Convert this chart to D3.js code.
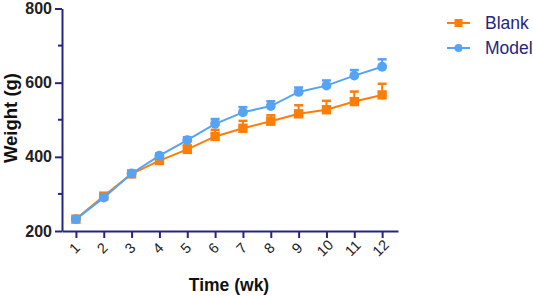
<!DOCTYPE html>
<html>
<head>
<meta charset="utf-8">
<script src="https://cdn.jsdelivr.net/npm/d3@7"></script>
<style>
  body { margin: 0; background: #fff; }
  svg { display: block; font-family: Arial, "Liberation Sans", sans-serif; }
  .axis path, .axis line { stroke: #262680; stroke-width: 2px; }
</style>
</head>
<body>
<div id="chart"></div>
<script>
// weeks on the x axis
var WEEKS = [1, 2, 3, 4, 5, 6, 7, 8, 9, 10, 11, 12];
// Blank group mean weight (g) and error
var BLANK = [232, 294, 354, 390, 420, 455, 477, 496, 516, 527, 549, 567];
var BLANK_ERR = [4, 6, 5, 7, 11, 18, 20, 16, 23, 24, 27, 30];
// Model group mean weight (g) and error
var MODEL = [232, 290, 355, 403, 445, 489, 520, 537, 575, 592, 619, 643];
var MODEL_ERR = [4, 5, 5, 6, 8, 13, 14, 13, 12, 14, 15, 20];
// y ticks
var Y_TICKS = [200, 400, 600, 800];
var Y_MINOR = [300, 500, 700];

var ORANGE = '#fb7e0a';
var BLUE = '#55a3f5';
var NAVY = '#262680';
var FONT = 'Arial, "Liberation Sans", sans-serif';

var W = 533, H = 297;
var svg = d3.select('#chart').append('svg')
  .attr('width', W).attr('height', H);

var x = d3.scaleLinear().domain([0.5, 12.57]).range([62, 398]);
var y = d3.scaleLinear().domain([200, 800]).range([231, 8.5]);

// y axis
var yAxis = svg.append('g')
  .attr('class', 'axis')
  .attr('transform', 'translate(62,0)')
  .call(d3.axisLeft(y).tickValues(Y_TICKS).tickSize(7).tickSizeOuter(0).tickPadding(3));
yAxis.selectAll('text')
  .attr('font-size', '16px').attr('font-weight', 'bold').attr('fill', '#222')
  .attr('font-family', FONT);
yAxis.selectAll('.minor').data(Y_MINOR).enter().append('line')
  .attr('class', 'minor')
  .attr('x1', -4).attr('x2', 0)
  .attr('y1', function(d) { return y(d); })
  .attr('y2', function(d) { return y(d); });

// x axis
var xAxis = svg.append('g')
  .attr('class', 'axis')
  .attr('transform', 'translate(0,231)')
  .call(d3.axisBottom(x).tickValues(WEEKS).tickSize(7).tickSizeOuter(0).tickFormat(d3.format('d')));
xAxis.selectAll('text')
  .attr('font-size', '14.5px').attr('fill', '#222')
  .attr('font-family', FONT)
  .style('text-anchor', 'middle')
  .attr('y', 0).attr('dy', '0.35em')
  .attr('transform', 'translate(-2,17) rotate(-45)');

// axis titles
svg.append('text')
  .attr('transform', 'translate(17,118) rotate(-90)')
  .style('text-anchor', 'middle')
  .attr('font-size', '18.5px').attr('font-weight', 'bold').attr('fill', '#111')
  .text('Weight (g)');

svg.append('text')
  .attr('x', 229).attr('y', 291)
  .style('text-anchor', 'middle')
  .attr('font-size', '17.5px').attr('font-weight', 'bold').attr('fill', '#111')
  .text('Time (wk)');

function drawSeries(vals, errs, color, shape) {
  var g = svg.append('g');
  var pts = WEEKS.map(function(w, i) { return { w: w, v: vals[i], e: errs[i] }; });

  // error bars (upper only)
  g.selectAll('.eb').data(pts).enter().append('line')
    .attr('x1', function(d) { return x(d.w); })
    .attr('x2', function(d) { return x(d.w); })
    .attr('y1', function(d) { return y(d.v); })
    .attr('y2', function(d) { return y(d.v + d.e); })
    .attr('stroke', color).attr('stroke-width', 2);
  g.selectAll('.cap').data(pts).enter().append('line')
    .attr('x1', function(d) { return x(d.w) - 4.5; })
    .attr('x2', function(d) { return x(d.w) + 4.5; })
    .attr('y1', function(d) { return y(d.v + d.e); })
    .attr('y2', function(d) { return y(d.v + d.e); })
    .attr('stroke', color).attr('stroke-width', 2.5);

  var line = d3.line()
    .x(function(d) { return x(d.w); })
    .y(function(d) { return y(d.v); });
  g.append('path').datum(pts)
    .attr('d', line)
    .attr('fill', 'none').attr('stroke', color).attr('stroke-width', 2);

  g.selectAll('.mk').data(pts).enter().append('path')
    .attr('transform', function(d) { return 'translate(' + x(d.w) + ',' + y(d.v) + ')'; })
    .attr('d', d3.symbol().type(shape).size(shape === d3.symbolSquare ? 88 : 76))
    .attr('fill', color);
}

drawSeries(BLANK, BLANK_ERR, ORANGE, d3.symbolSquare);
drawSeries(MODEL, MODEL_ERR, BLUE, d3.symbolCircle);

// legend
var legend = [
  { name: 'Blank', color: ORANGE, shape: d3.symbolSquare, y: 23 },
  { name: 'Model', color: BLUE, shape: d3.symbolCircle, y: 48 }
];
var lg = svg.append('g');
legend.forEach(function(d) {
  lg.append('line')
    .attr('x1', 447).attr('x2', 470)
    .attr('y1', d.y).attr('y2', d.y)
    .attr('stroke', d.color).attr('stroke-width', 2);
  lg.append('path')
    .attr('transform', 'translate(458.5,' + d.y + ')')
    .attr('d', d3.symbol().type(d.shape).size(d.shape === d3.symbolSquare ? 64 : 50))
    .attr('fill', d.color);
  lg.append('text')
    .attr('x', 485).attr('y', d.y).attr('dy', '0.36em')
    .attr('font-size', '17.5px').attr('fill', NAVY)
    .text(d.name);
});
</script>
</body>
</html>
